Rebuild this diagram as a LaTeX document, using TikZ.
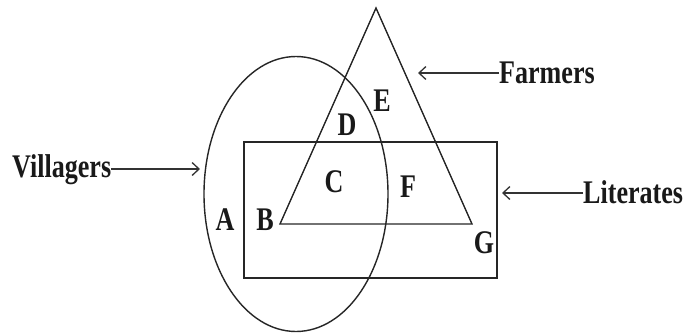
\documentclass[tikz,border=0pt]{standalone}
\usepackage{fontspec}
\usepackage{graphicx}
\setmainfont{Liberation Serif}
\usetikzlibrary{arrows.meta,shapes.geometric}
\newcommand\lbltext[1]{\scalebox{0.79}[1]{\fontsize{33}{33}\selectfont\bfseries #1}}
\tikzset{
  shapeline/.style={draw=black!85, line width=1.4pt},
  word/.style={inner sep=0pt, anchor=base west, text=black!90},
  letter/.style={inner sep=0pt, anchor=center, text=black!90},
  pointer/.style={draw=black!80, line width=1.5pt, -{Straight Barb[length=7pt,width=13pt,line width=1.3pt]}}
}
\begin{document}
\begin{tikzpicture}[x=1pt,y=-1pt]
\useasboundingbox (0,0) rectangle (689,335);
% shapes
\draw[shapeline] (296,194) ellipse [x radius=92, y radius=137.5];
\draw[shapeline] (376,8) -- (472,224) -- (280,224) -- cycle;
\draw[shapeline] (244,142) rectangle (497,278);
% region letters
\node[letter] (A) at (225,220) {\lbltext{A}};
\node[letter] (B) at (265,220) {\lbltext{B}};
\node[letter] (C) at (334,182) {\lbltext{C}};
\node[letter] (D) at (347,125) {\lbltext{D}};
\node[letter] (E) at (382,101) {\lbltext{E}};
\node[letter] (F) at (408,187) {\lbltext{F}};
\node[letter] (G) at (484,243) {\lbltext{G}};
% labels
\node[word] (vil) at (12,177) {\lbltext{Villagers}};
\node[word] (farm) at (499,83) {\lbltext{Farmers}};
\node[word] (lit) at (583,203) {\lbltext{Literates}};
% arrow ends
\coordinate (vilend) at (200,169);
\coordinate (farmend) at (418,73);
\coordinate (litend) at (502,193);
\draw[pointer] (vil.east |- vilend) -- (vilend);
\draw[pointer] (farm.west |- farmend) -- (farmend);
\draw[pointer] (lit.west |- litend) -- (litend);
\end{tikzpicture}
\end{document}
